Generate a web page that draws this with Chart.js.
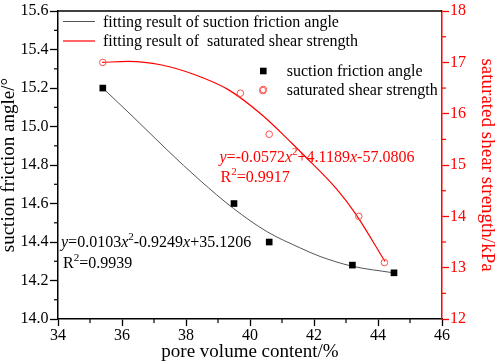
<!DOCTYPE html>
<html><head><meta charset="utf-8">
<script src="https://cdn.jsdelivr.net/npm/chart.js@4/dist/chart.umd.min.js"></script>
<style>html,body{margin:0;padding:0;background:#fff;}canvas{display:block;}</style>
</head><body>
<canvas id="c" width="498" height="364"></canvas>
<script>
// ---- data ----
const squareX = [35.4, 39.5, 40.6, 43.2, 44.5];
const squareY = [15.2, 14.6, 14.4, 14.28, 14.24];
const circleX = [35.4, 39.7, 40.4, 40.6, 43.4, 44.2];
const circleY = [17.0, 16.4, 16.45, 15.6, 14.0, 13.1];
const fitAngleX = [35.4, 36.35, 37.4, 38.44, 39.48, 40.52, 41.56, 42.19, 43.18, 44.48];
const fitAngleY = [15.2, 15.05, 14.88, 14.72, 14.575, 14.455, 14.37, 14.325, 14.275, 14.24];
const fitShearX = [35.38, 36.2, 37.24, 38.28, 39.32, 40.37, 41.3, 41.67, 42.71, 43.31, 44.22];
const fitShearY = [17.0, 17.02, 16.95, 16.76, 16.47, 15.98, 15.43, 15.2, 14.53, 14.04, 13.12];
const xTickValues = [34, 36, 38, 40, 42, 44, 46];
const leftTickValues = [14.0, 14.2, 14.4, 14.6, 14.8, 15.0, 15.2, 15.4, 15.6];
const rightTickValues = [12, 13, 14, 15, 16, 17, 18];
const legendLines = ['fitting result of suction friction angle', 'fitting result of  saturated shear strength'];
const legendMarks = ['suction friction angle', 'saturated shear strength'];
const eqAngle = [['y','i'],['=0.0103','n'],['x','i'],['2','s'],['-0.9249','n'],['x','i'],['+35.1206','n']];
const r2Angle = [['R','n'],['2','s'],['=0.9939','n']];
const eqShear = [['y','i'],['=-0.0572','n'],['x','i'],['2','s'],['+4.1189','n'],['x','i'],['-57.0806','n']];
const r2Shear = [['R','n'],['2','s'],['=0.9917','n']];

const FONT = '"Liberation Serif", "Times New Roman", serif';
const RED = '#ff0000';
const CIRC = '#ff5050';
const GRAY = '#555555';

const pts = (xs, ys) => xs.map((x, i) => ({x, y: ys[i]}));

function rich(ctx, x, y, parts, color) {
  ctx.fillStyle = color;
  ctx.textBaseline = 'alphabetic';
  ctx.textAlign = 'left';
  for (const [t, k] of parts) {
    ctx.font = (k === 'i' ? 'italic 16px ' : (k === 's' ? '11px ' : '16px ')) + FONT;
    ctx.fillText(t, x, k === 's' ? y - 6.5 : y);
    x += ctx.measureText(t).width;
  }
}

const extras = {
  id: 'extras',
  afterDraw(chart) {
    const ctx = chart.ctx;
    const ca = chart.chartArea;
    ctx.save();
    // top frame line
    ctx.strokeStyle = '#000'; ctx.lineWidth = 1.5;
    ctx.beginPath(); ctx.moveTo(ca.left - 0.75, ca.top); ctx.lineTo(ca.right, ca.top); ctx.stroke();
    // minor ticks
    const minor = (scale, color, len) => {
      const t = scale.ticks;
      ctx.strokeStyle = color; ctx.lineWidth = 1.2;
      for (let i = 0; i < t.length - 1; i++) {
        const p = scale.getPixelForValue((t[i].value + t[i + 1].value) / 2);
        ctx.beginPath();
        if (scale.axis === 'x') { ctx.moveTo(p, scale.top); ctx.lineTo(p, scale.top + len); }
        else if (scale.position === 'left') { ctx.moveTo(scale.right, p); ctx.lineTo(scale.right - len, p); }
        else { ctx.moveTo(scale.left, p); ctx.lineTo(scale.left + len, p); }
        ctx.stroke();
      }
    };
    minor(chart.scales.x, '#000', 4);
    minor(chart.scales.y, '#000', 4);
    minor(chart.scales.y2, RED, 4);
    // legend box 1 (fit lines)
    ctx.lineWidth = 1;
    ctx.strokeStyle = GRAY;
    ctx.beginPath(); ctx.moveTo(63, 21.5); ctx.lineTo(95, 21.5); ctx.stroke();
    ctx.strokeStyle = RED; ctx.lineWidth = 1.2;
    ctx.beginPath(); ctx.moveTo(63, 41); ctx.lineTo(95, 41); ctx.stroke();
    ctx.font = '16px ' + FONT; ctx.fillStyle = '#000'; ctx.textBaseline = 'alphabetic'; ctx.textAlign = 'left';
    ctx.fillText(legendLines[0], 103, 26.7);
    ctx.fillText(legendLines[1], 103, 46);
    // legend 2 (markers)
    ctx.fillStyle = '#000';
    ctx.fillRect(263.3 - 3.3, 71 - 3.3, 6.6, 6.6);
    ctx.strokeStyle = CIRC; ctx.lineWidth = 1;
    ctx.beginPath(); ctx.arc(263.3, 89.5, 3.3, 0, Math.PI * 2); ctx.stroke();
    ctx.fillStyle = '#000';
    ctx.fillText(legendMarks[0], 286.7, 75.5);
    ctx.fillText(legendMarks[1], 286.7, 94.5);
    // annotations
    rich(ctx, 219.5, 161.7, eqShear, RED);
    rich(ctx, 220.5, 181.7, r2Shear, RED);
    rich(ctx, 61, 246.5, eqAngle, '#000');
    rich(ctx, 63, 267.5, r2Angle, '#000');
    ctx.restore();
  }
};

const setTicks = vals => scale => { scale.ticks = vals.map(v => ({value: v})); };

new Chart(document.getElementById('c'), {
  type: 'scatter',
  data: {
    datasets: [
      {data: pts(fitAngleX, fitAngleY), showLine: true, borderColor: GRAY, borderWidth: 1,
       pointRadius: 0, cubicInterpolationMode: 'monotone', yAxisID: 'y', order: 3},
      {data: pts(fitShearX, fitShearY), showLine: true, borderColor: RED, borderWidth: 1.2,
       pointRadius: 0, cubicInterpolationMode: 'monotone', yAxisID: 'y2', order: 3},
      {data: pts(squareX, squareY), pointStyle: 'rect', pointRadius: 4.7, backgroundColor: '#000',
       borderColor: '#000', borderWidth: 0, yAxisID: 'y', order: 1},
      {data: pts(circleX, circleY), pointStyle: 'circle', pointRadius: 3.3, backgroundColor: 'rgba(0,0,0,0)',
       borderColor: CIRC, borderWidth: 1, yAxisID: 'y2', order: 1}
    ]
  },
  options: {
    responsive: false, animation: false, devicePixelRatio: 1,
    layout: {padding: {top: 9, left: 0, right: 0, bottom: 0}},
    plugins: {legend: {display: false}, tooltip: {enabled: false}},
    scales: {
      x: {
        type: 'linear', position: 'bottom', min: 34, max: 46,
        afterBuildTicks: setTicks(xTickValues),
        afterFit: s => { s.height = 45; },
        ticks: {color: '#000', font: {family: FONT, size: 16}, padding: 0, maxRotation: 0,
                callback: v => String(v)},
        grid: {drawOnChartArea: false, drawTicks: true, tickLength: 7, tickColor: '#000', tickWidth: 1.3},
        border: {color: '#000', width: 1.5},
        title: {display: true, text: 'pore volume content/%', color: '#000',
                font: {family: FONT, size: 19, lineHeight: 1.2}, padding: {top: 0, bottom: 0.5}}
      },
      y: {
        type: 'linear', position: 'left', min: 14, max: 15.6,
        afterBuildTicks: setTicks(leftTickValues),
        afterFit: s => { s.width = 58; },
        ticks: {color: '#000', font: {family: FONT, size: 16}, padding: 1.5,
                callback: v => Number(v).toFixed(1)},
        grid: {drawOnChartArea: false, drawTicks: true, tickLength: 8, tickColor: '#000', tickWidth: 1.3},
        border: {color: '#000', width: 1.5},
        title: {display: true, text: 'suction friction angle/°', color: '#000',
                font: {family: FONT, size: 19, lineHeight: 1}, padding: {top: 0, bottom: 0}}
      },
      y2: {
        type: 'linear', position: 'right', min: 12, max: 18,
        afterBuildTicks: setTicks(rightTickValues),
        afterFit: s => { s.width = 56; },
        ticks: {color: RED, font: {family: FONT, size: 16}, padding: 1,
                callback: v => String(v)},
        grid: {drawOnChartArea: false, drawTicks: true, tickLength: 7, tickColor: RED, tickWidth: 1.3},
        border: {color: RED, width: 1.5},
        title: {display: true, text: 'saturated shear strength/kPa', color: RED,
                font: {family: FONT, size: 19, lineHeight: 1.2}, padding: {top: 0, bottom: 0}}
      }
    }
  },
  plugins: [extras]
});
</script>
</body></html>
